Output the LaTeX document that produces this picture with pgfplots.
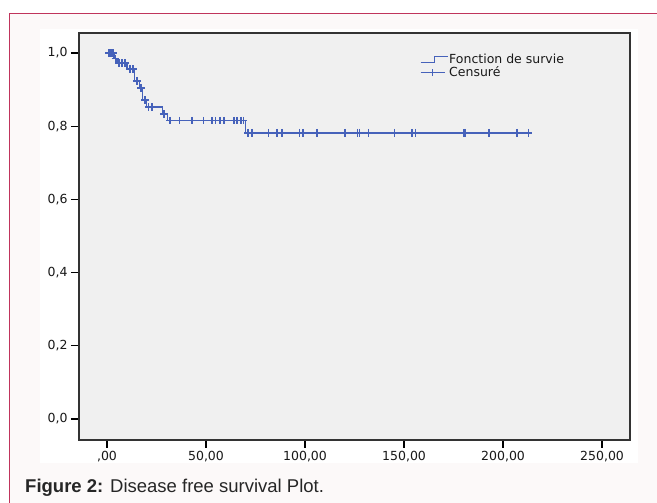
\documentclass[border=0pt]{standalone}
\usepackage{fontspec}
\setmainfont{DejaVu Sans}
\newfontfamily\capfont{Liberation Sans}
\usepackage{pgfplots}
\pgfplotsset{compat=1.18}
\definecolor{kmblue}{RGB}{70,98,186}
\definecolor{plotbg}{RGB}{240,240,240}
\definecolor{framered}{RGB}{192,52,92}
\definecolor{framebg}{RGB}{252,249,249}
\begin{document}
\begin{tikzpicture}
\useasboundingbox (0pt,0pt) rectangle (657pt,503pt);
\fill[white] (0pt,0pt) rectangle (657pt,503pt);
% outer frame (only top and left edges visible)
\fill[framebg] (9.5pt,0pt) rectangle (657pt,489.5pt);
\draw[framered, line width=1.8pt] (9.5pt,0pt) -- (9.5pt,489.5pt) -- (657pt,489.5pt);
% white chart region
\fill[white] (40pt,40pt) rectangle (638pt,474pt);
\begin{axis}[
  at={(79pt,63pt)}, anchor=south west,
  scale only axis,
  width=551pt, height=407pt,
  xmin=-14.14, xmax=264.1,
  ymin=-0.0574, ymax=1.0546,
  axis background/.style={fill=plotbg},
  axis line style={black!80, line width=1.3pt},
  tick align=outside,
  xtick pos=bottom, ytick pos=left,
  major tick length=8pt,
  tick style={black, line width=1.3pt},
  xtick={0,50,100,150,200,250},
  xticklabels={{,00},{50,00},{100,00},{150,00},{200,00},{250,00}},
  ytick={0,0.2,0.4,0.6,0.8,1.0},
  yticklabels={{0,0},{0,2},{0,4},{0,6},{0,8},{1,0}},
  tick label style={font=\fontsize{12.5}{14}\selectfont, text=black!90},
  /pgf/number format/assume math mode=true,
  legend style={at={(axis cs:158,1.0)}, anchor=north west, draw=none, fill=none,
    font=\fontsize{12.5}{14}\selectfont, inner sep=0pt, row sep=0pt,
    nodes={inner sep=0.8pt, text=black!90}},
  legend cell align=left,
]
% Kaplan-Meier step curve
\addplot[kmblue, line width=1.5pt, const plot, mark=none,
  legend image code/.code={\draw[kmblue, line width=1.3pt] (0pt,-3.3pt) -- (14pt,-3.3pt) -- (14pt,3.3pt) -- (27pt,3.3pt);}]
coordinates {
  (0,1.0) (3.5,0.985) (5,0.972) (10,0.956) (14,0.924) (16.5,0.904)
  (18,0.871) (20,0.852) (28,0.833) (30.5,0.815) (70,0.782) (213,0.782)
};
\addlegendentry{Fonction de survie}
% censored observations
\addplot[kmblue, only marks, mark=+, mark size=3.8pt, line width=1.6pt,
  legend image code/.code={\draw[kmblue, line width=1.3pt] (0pt,0pt) -- (24pt,0pt); \draw[kmblue, line width=1.3pt] (12pt,-3.8pt) -- (12pt,3.8pt) (8.5pt,0pt) -- (15.5pt,0pt);}]
coordinates {
  (1,1.0) (1.5,1.0) (2,1.0) (2.5,1.0) (3,1.0)
  (4.2,0.985)
  (6,0.972) (7.5,0.972) (9,0.972)
  (11.6,0.956) (13,0.956)
  (15,0.924)
  (17.3,0.904)
  (19.2,0.871)
  (21,0.852) (22.6,0.852)
  (28.8,0.833)
  (31.8,0.815) (36.7,0.815) (42.9,0.815) (48.7,0.815) (53,0.815) (54.8,0.815)
  (57,0.815) (59,0.815) (64,0.815) (65.5,0.815) (67.7,0.815) (69,0.815)
  (71.2,0.782) (73.1,0.782) (81.5,0.782) (85.7,0.782) (88.4,0.782) (97.2,0.782)
  (99.1,0.782) (106.1,0.782) (120.2,0.782) (126.5,0.782) (127.5,0.782) (132,0.782)
  (145.1,0.782) (154,0.782) (155.8,0.782) (180.3,0.782) (180.9,0.782) (193,0.782)
  (206.9,0.782) (212.8,0.782)
};
\addlegendentry{Censuré}
\end{axis}
\node[anchor=base west, font=\capfont\fontsize{18.5}{22}\selectfont, text=black!85, inner sep=0pt]
  at (25pt,10pt) {\textbf{Figure 2:} Disease free survival Plot.};
\end{tikzpicture}
\end{document}
